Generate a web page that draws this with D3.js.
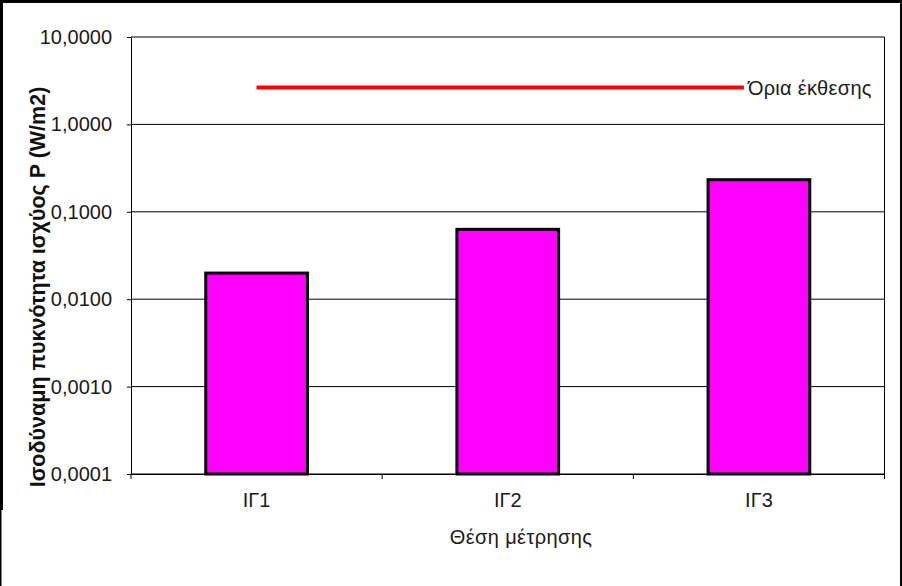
<!DOCTYPE html>
<html>
<head>
<meta charset="utf-8">
<script src="https://cdn.jsdelivr.net/npm/d3@7"></script>
<style>
  html, body { margin: 0; padding: 0; background: #fff; }
  svg { display: block; font-family: "Liberation Sans", Arial, sans-serif; }
</style>
</head>
<body>
<script>
// ---- data ----
const categories = ["ΙΓ1", "ΙΓ2", "ΙΓ3"];
const values = [0.0199, 0.0630, 0.233];
const limitValues = [2.65, 2.65, 2.65];
const limitLabel = "Όρια έκθεσης";
const yTicks = [0.0001, 0.001, 0.01, 0.1, 1, 10];
const yTitle = "Ισοδύναμη πυκνότητα ισχύος P (W/m2)";
const xTitle = "Θέση μέτρησης";

(function () {
const W = 902, H = 586;
const svg = d3.select("body").append("svg").attr("width", W).attr("height", H);

const pLeft = 131, pRight = 884.5, pTop = 37, pBottom = 474;

const x = d3.scaleBand().domain(categories).range([pLeft, pRight]).padding(0);
const y = d3.scaleLog().domain([0.0001, 10]).range([pBottom, pTop]);

// gridlines
svg.append("g").selectAll("line").data(yTicks).join("line")
  .attr("x1", pLeft).attr("x2", pRight)
  .attr("y1", d => y(d)).attr("y2", d => y(d))
  .attr("stroke", "#000").attr("stroke-width", 1);

// right border of plot area
svg.append("line").attr("x1", pRight).attr("x2", pRight).attr("y1", pTop).attr("y2", pBottom)
  .attr("stroke", "#000").attr("stroke-width", 1);

// bars
const bw = x.bandwidth() * 0.405;
svg.append("g").selectAll("rect").data(categories).join("rect")
  .attr("x", (d) => x(d) + (x.bandwidth() - bw) / 2)
  .attr("y", (d, i) => y(values[i]))
  .attr("width", bw)
  .attr("height", (d, i) => pBottom - y(values[i]))
  .attr("fill", "#FF00FF")
  .attr("stroke", "#000")
  .attr("stroke-width", 3);

// y axis
const yAxis = d3.axisLeft(y).tickValues(yTicks)
  .tickFormat(d => d.toFixed(4).replace(".", ","))
  .tickSize(4).tickSizeOuter(0).tickPadding(15);
const gy = svg.append("g").attr("transform", `translate(${pLeft},0)`).call(yAxis);
gy.select(".domain").attr("stroke", "#000");
gy.selectAll("text").attr("font-size", 20).attr("fill", "#1a1a1a")
  .attr("font-family", "'Liberation Sans', Arial, sans-serif");

// x axis
const xAxis = d3.axisBottom(x).tickSize(0).tickPadding(19);
const gx = svg.append("g").attr("transform", `translate(0,${pBottom})`).call(xAxis);
gx.select(".domain").attr("stroke", "#000");
gx.selectAll("text").attr("font-size", 20).attr("fill", "#1a1a1a")
  .attr("font-family", "'Liberation Sans', Arial, sans-serif");
// category boundary ticks
const bounds = categories.map(c => x(c)).concat([x(categories[categories.length - 1]) + x.bandwidth()]);
svg.append("g").selectAll("line").data(bounds).join("line")
  .attr("x1", d => d).attr("x2", d => d)
  .attr("y1", pBottom).attr("y2", pBottom + 5)
  .attr("stroke", "#000");

// limit line
const line = d3.line()
  .x((d, i) => x(categories[i]) + x.bandwidth() / 2)
  .y(d => y(d));
svg.append("path").datum(limitValues)
  .attr("d", line).attr("fill", "none")
  .attr("stroke", "#FF0000").attr("stroke-width", 4);

// limit label with white background
const lastX = x(categories[2]) + x.bandwidth() / 2;
const ly = y(limitValues[2]);
svg.append("rect").attr("x", lastX - 15).attr("y", ly - 14).attr("width", 134).attr("height", 28).attr("fill", "#fff");
svg.append("text").attr("x", lastX - 11).attr("y", ly + 8)
  .attr("font-size", 20).attr("fill", "#1a1a1a").attr("letter-spacing", 0.3).text(limitLabel);

// axis titles
svg.append("text")
  .attr("transform", `translate(45,287) rotate(-90)`)
  .attr("text-anchor", "middle").attr("font-size", 21.5).attr("font-weight", "bold")
  .attr("fill", "#111").text(yTitle);
svg.append("text").attr("x", 521).attr("y", 544)
  .attr("text-anchor", "middle").attr("font-size", 20).attr("letter-spacing", 0.4)
  .attr("fill", "#1a1a1a").text(xTitle);

// outer border
svg.append("rect").attr("x", 0).attr("y", 0).attr("width", W).attr("height", 3).attr("fill", "#000");
svg.append("rect").attr("x", 0).attr("y", 0).attr("width", 3).attr("height", 510).attr("fill", "#000");
svg.append("rect").attr("x", 0).attr("y", 510).attr("width", 1.5).attr("height", H - 510).attr("fill", "#000");
svg.append("rect").attr("x", W - 2).attr("y", 0).attr("width", 2).attr("height", H).attr("fill", "#000");
})();
</script>
</body>
</html>
